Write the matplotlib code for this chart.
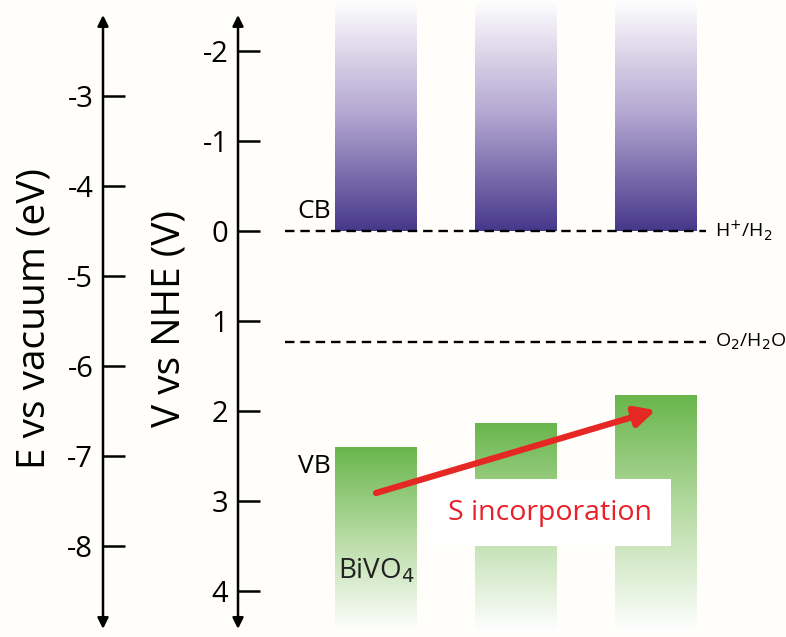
import matplotlib.pyplot as plt
import numpy as np
from matplotlib.colors import LinearSegmentedColormap

# band edges vs NHE (V)
samples = ['BiVO4', 'S-BiVO4 (low)', 'S-BiVO4 (high)']
cb_edge = [0.0, 0.0, 0.0]
vb_edge = [2.40, 2.13, 1.82]
redox_levels = [0.0, 1.23]
redox_labels = [r'H$^{+}$/H$_2$', r'O$_2$/H$_2$O']
nhe_ticks = [-2, -1, 0, 1, 2, 3, 4]
vac_ticks = [-3, -4, -5, -6, -7, -8]
vac_offset = -4.5  # E(vac) = -4.5 - V(NHE)

plt.rcParams['font.family'] = ['Open Sans', 'DejaVu Sans']

ylo, yhi = 4.51, -2.567   # axis limits (inverted)
arrow_lo, arrow_hi = 4.42, -2.40
bar_w = 0.585
cb_top = yhi
vb_bottom = 4.45

fig = plt.figure(figsize=(7.86, 6.37), dpi=100)
fig.patch.set_facecolor('#fffefb')

ax = fig.add_axes([238 / 786, 0, 1 - 238 / 786, 1])
ax.set_facecolor('none')
for s in ax.spines.values():
    s.set_visible(False)
ax.set_xticks([])
ax.set_yticks(nhe_ticks)
ax.set_yticklabels([str(t) for t in nhe_ticks], fontsize=21)
ax.tick_params(axis='y', direction='in', length=16, width=1.8, pad=7)
ax.annotate('', xy=(0, arrow_hi), xytext=(0, arrow_lo),
            xycoords=('axes fraction', 'data'),
            arrowprops=dict(arrowstyle='<|-|>', lw=1.8, color='black',
                            mutation_scale=16, shrinkA=0, shrinkB=0))
ax.set_ylabel('V vs NHE (V)', fontsize=28, labelpad=10)

# gradient bars
cb_cmap = LinearSegmentedColormap.from_list('cb', ['#ffffff', '#b3a6d1', '#46388a'])
vb_cmap = LinearSegmentedColormap.from_list('vb', ['#69b64c', '#b9dca6', '#ffffff'])
grad = np.linspace(0, 1, 256).reshape(-1, 1)
for i, (c, v) in enumerate(zip(cb_edge, vb_edge)):
    ax.imshow(grad, cmap=cb_cmap, aspect='auto', zorder=1,
              extent=(i - bar_w / 2, i + bar_w / 2, c, cb_top))
    ax.imshow(grad, cmap=vb_cmap, aspect='auto', zorder=1,
              extent=(i - bar_w / 2, i + bar_w / 2, vb_bottom, v))
ax.set_xlim(-0.986, 2.93)
ax.set_ylim(ylo, yhi)

# redox potentials
for lvl, lab in zip(redox_levels, redox_labels):
    ax.plot([-0.65, 2.36], [lvl, lvl], ls=(0, (4, 2.5)), color='black', lw=1.7, zorder=3)
    ax.text(2.42, lvl, lab, fontsize=14, va='center', ha='left')

ax.text(-bar_w / 2 - 0.03, cb_edge[0] - 0.08, 'CB', fontsize=19, ha='right', va='bottom')
ax.text(-bar_w / 2 - 0.03, vb_edge[0] + 0.22, 'VB', fontsize=19, ha='right', va='center')
ax.text(0, 3.77, r'BiVO$_4$', fontsize=20, ha='center', va='center', color='#222222')

ax.text(1.24, 3.13, 'S incorporation', fontsize=20.5, color='#e8202a', ha='center', va='center',
        zorder=4, bbox=dict(facecolor='white', edgecolor='none', pad=14))
ax.annotate('', xy=(2.0, 1.99), xytext=(0.0, 2.91),
            arrowprops=dict(arrowstyle='-|>', lw=4.5, color='#e52823',
                            mutation_scale=30, shrinkA=0, shrinkB=0), zorder=5)

# vacuum scale axis
ax2 = fig.add_axes([103 / 786, 0, 0.01, 1])
ax2.set_facecolor('none')
ax2.set_xticks([])
for s in ax2.spines.values():
    s.set_visible(False)
ax2.set_ylim(vac_offset - ylo, vac_offset - yhi)
ax2.set_yticks(vac_ticks)
ax2.set_yticklabels([str(t) for t in vac_ticks], fontsize=21)
ax2.tick_params(axis='y', direction='in', length=16, width=1.8, pad=7)
ax2.annotate('', xy=(0, vac_offset - arrow_hi), xytext=(0, vac_offset - arrow_lo),
             xycoords=('axes fraction', 'data'),
             arrowprops=dict(arrowstyle='<|-|>', lw=1.8, color='black',
                             mutation_scale=16, shrinkA=0, shrinkB=0))
ax2.set_ylabel('E vs vacuum (eV)', fontsize=28, labelpad=10)

fig.savefig('out.png', dpi=100, facecolor=fig.get_facecolor())
